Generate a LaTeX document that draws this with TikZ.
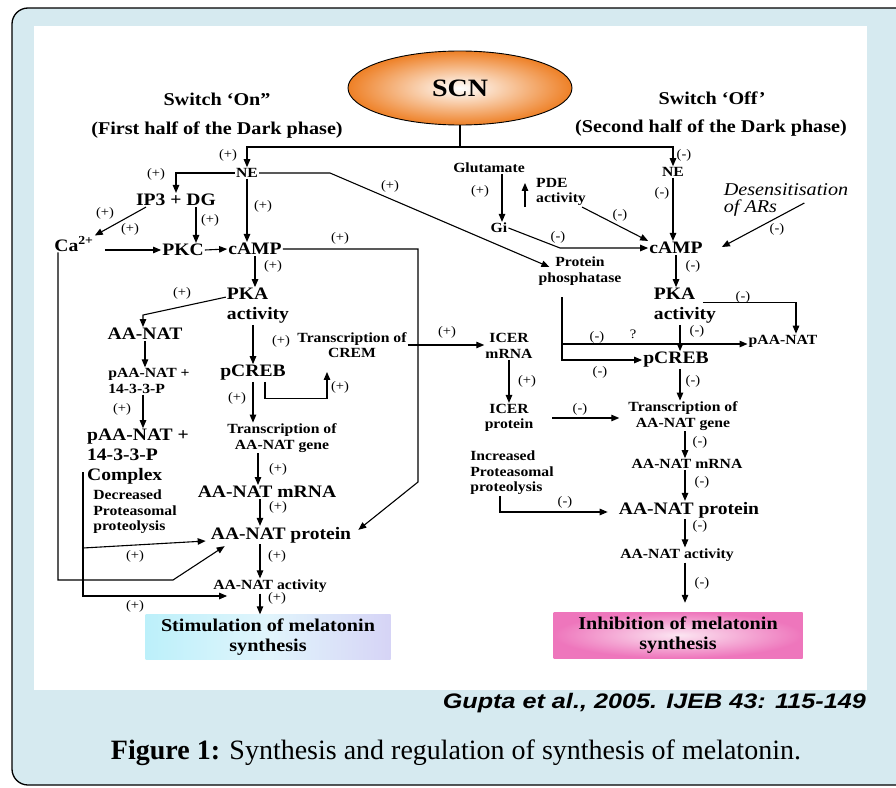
\documentclass[tikz,border=0pt]{standalone}
\usepackage{fontspec}
\usepackage{graphicx}
\setmainfont{Liberation Serif}
\newfontfamily\dg[FakeStretch=1.12]{Liberation Serif}
\newfontfamily\gup[FakeStretch=1.2]{Liberation Sans}
\usetikzlibrary{arrows.meta,shapes.geometric,calc}
\definecolor{bgblue}{RGB}{214,234,240}
\definecolor{scnorange}{RGB}{238,128,38}
\definecolor{stimL}{RGB}{188,240,250}
\definecolor{stimR}{RGB}{214,212,246}
\definecolor{stimM}{RGB}{225,245,252}
\definecolor{inhOut}{RGB}{238,118,188}
\definecolor{inhIn}{RGB}{252,230,242}
\tikzset{
  big/.style={font=\dg\bfseries\fontsize{17.5}{20}\selectfont, inner sep=1pt},
  sml/.style={font=\dg\bfseries\fontsize{14}{15.5}\selectfont, inner sep=1pt},
  lab/.style={font=\dg\fontsize{13}{14}\selectfont, inner sep=0pt},
  head/.style={font=\dg\bfseries\fontsize{18}{20}\selectfont, inner sep=1pt},
  desc/.style={font=\dg\itshape\fontsize{18}{17}\selectfont, inner sep=1pt, align=left},
  arr/.style={-{Triangle[length=8pt,width=6.5pt]}, line width=1.1pt},
  ln/.style={line width=1.1pt},
  stimbox/.style={font=\dg\bfseries\fontsize{18}{20}\selectfont, align=center,
     minimum width=245pt, minimum height=45pt, inner sep=0pt,
     left color=stimL, right color=stimR, middle color=stimM},
  inhbox/.style={font=\dg\bfseries\fontsize{18}{20}\selectfont, align=center,
     minimum width=249pt, minimum height=46pt, inner sep=0pt,
     inner color=inhIn, outer color=inhOut},
}
\begin{document}
\begin{tikzpicture}[x=1pt,y=-1pt]
\clip (0,0) rectangle (896,787);
\fill[white] (0,0) rectangle (896,787);
\draw[fill=bgblue, line width=1.3pt, rounded corners=16pt] (12,8) rectangle (940,785);
\fill[white] (34,26) rectangle (867,690);

% ---------- header ----------
\node[ellipse, draw, line width=0.9pt, minimum width=224pt, minimum height=74pt,
      inner color=white, outer color=scnorange,
      font=\dg\bfseries\fontsize{25}{27}\selectfont] (scn) at (460,88) {SCN};
\node[head] (swon) at (217,99) {Switch ‘On”};
\node[head] (swonb) at (217,130) {(First half of the Dark phase)};
\node[head] (swoff) at (712,98) {Switch ‘Off’};
\node[head] (swoffb) at (711,128) {(Second half of the Dark phase)};

% ---------- left (switch on) ----------
\node[sml] (neL) at (247,173) {NE};
\node[big] (ip3) at (176,200) {IP3 + DG};
\node[big] (ca) at (74,244) {Ca\textsuperscript{2+}};
\node[big] (pkc) at (183,250) {PKC};
\node[big] (campL) at (255,249) {cAMP};
\node[big, align=left] (pkaL) at (258,306) {PKA\\activity};
\node[big] (aanat) at (145,334) {AA-NAT};
\node[sml, align=left] (paa1) at (149,381) {pAA-NAT +\\14-3-3-P};
\node[big, align=left] (paa2) at (138,457) {pAA-NAT +\\14-3-3-P\\Complex};
\node[sml, align=left] (decr) at (135,512) {Decreased\\Proteasomal\\proteolysis};
\node[big] (pcrebL) at (253,373) {pCREB};
\node[sml, align=center] (crem) at (352,345) {Transcription of\\CREM};
\node[sml, align=center] (trL) at (282,438) {Transcription of\\AA-NAT gene};
\node[big] (mrnaL) at (267,492) {AA-NAT mRNA};
\node[big] (prL) at (281,535) {AA-NAT protein};
\node[sml] (actL) at (270,586) {AA-NAT activity};
\node[stimbox] (stim) at (268,637) {Stimulation of melatonin\\synthesis};

% ---------- right (switch off) ----------
\node[sml] (neR) at (673,172) {NE};
\node[sml] (glu) at (489,168) {Glutamate};
\node[sml] (gi) at (499,228) {Gi};
\node[sml, align=left] (pde) at (561,192) {PDE\\activity};
\node[big] (campR) at (676,248) {cAMP};
\node[desc] (des) at (786,200) {Desensitisation\\of ARs};
\node[sml, align=center] (pp) at (580,271) {Protein\\phosphatase};
\node[big, align=left] (pkaR) at (685,306) {PKA\\activity};
\node[sml] (paaR) at (783,341) {pAA-NAT};
\node[big] (pcrebR) at (676,360) {pCREB};
\node[sml, align=center] (icerM) at (509,346) {ICER\\mRNA};
\node[sml, align=center] (icerP) at (509,418) {ICER\\protein};
\node[sml, align=center] (trR) at (683,416) {Transcription of\\AA-NAT gene};
\node[sml] (mrnaR) at (687,464) {AA-NAT mRNA};
\node[sml, align=left] (incr) at (512,473) {Increased\\Proteasomal\\proteolysis};
\node[big] (prR) at (689,510) {AA-NAT protein};
\node[sml] (actR) at (677,555) {AA-NAT activity};
\node[inhbox] (inh) at (678,635) {Inhibition of melatonin\\synthesis};

% ---------- footer ----------
\node[anchor=east, inner sep=0pt, font=\gup\bfseries\itshape\fontsize{21}{22}\selectfont] (cite) at (866,703) {Gupta et al., 2005. IJEB 43: 115-149};
\node[inner sep=0pt, font=\fontsize{28}{30}\selectfont] (cap) at (456,753) {\textbf{Figure 1:} Synthesis and regulation of synthesis of melatonin.};

% ---------- coordinates ----------
\coordinate (fork) at (460,147);
\coordinate (caB) at (58,580);
\coordinate (caK) at (173,580);
\coordinate (neK) at (330,173);
\coordinate (cRb) at (418,482);
\coordinate (cxT) at (83,472);
\coordinate (cxM) at (83,548);
\coordinate (cxB) at (83,596);
\coordinate (gK) at (560,248);
\coordinate (ppT) at (562,297);
\coordinate (ppM) at (562,344);

% ---------- connectors left ----------
\draw[ln] (scn.south) -- (fork);
\draw[arr] (fork) -| (neL.north);
\draw[arr] (fork) -| (neR.north);
\draw[arr] (neL.west) -| (ip3.north);
\draw[arr] (neL.south) -- (neL.south |- campL.north);
\draw[arr] ($(ip3.south)+(-30,0)$) -- (ca.north east);
\draw[arr] ([xshift=20pt]ip3.south) -- ([xshift=20pt]ip3.south |- pkc.north);
\draw[arr] ($(ca.east |- pkc.west)+(10,0)$) -- (pkc.west);
\draw[arr] (pkc.east) -- (campL.west);
\draw[arr] (ca.south -| caB) -- (caB) -- (caK) -- ($(prL.south west)+(15,2)$);
\draw[arr] (neL.east) -- (neK) -- ($(pp.west)+(12,-4)$);
\draw[arr] (campL.east) -| (cRb) -- ($(prL.north east)+(6,4)$);
\draw[arr] (campL.south) -- (campL.south |- pkaL.north);
\draw[arr] ([yshift=-10pt]pkaL.north west) -- ($(aanat.north)+(-2,-12)$) -- ($(aanat.north)+(-2,0)$);
\draw[arr] (aanat.south) -- (aanat.south |- paa1.north);
\draw[arr] ([xshift=-6pt]paa1.south) -- ([xshift=-6pt]paa1.south |- paa2.north);
\draw[arr] (cxT) -- (cxB) -- ($(cxB -| actL.west)+(15,0)$);
\draw[arr] (cxM) -- ($(prL.west)+(-4,6)$);
\draw[arr] (pkaL.south -| pcrebL.north) -- (pcrebL.north);
\draw[arr] ([xshift=12pt]pcrebL.south) -- ++(0,17) -| ($(crem.south)+(-25,13)$);
\draw[arr] (crem.east) -- (crem.east -| icerM.west);
\draw[arr] (pcrebL.south) -- (pcrebL.south |- trL.north);
\draw[arr] ([xshift=-24pt]trL.south) -- ([xshift=-24pt]trL.south |- mrnaL.north);
\draw[arr] ([xshift=-7pt]mrnaL.south) -- ([xshift=-7pt]mrnaL.south |- prL.north);
\draw[arr] ([xshift=-21pt]prL.south) -- ([xshift=-21pt]prL.south |- actL.north);
\draw[arr] ([xshift=-10pt]actL.south) -- ([xshift=-10pt]actL.south |- stim.north);

% ---------- connectors right ----------
\draw[arr] ([xshift=13pt]glu.south) -- ([xshift=13pt]glu.south |- gi.north);
\draw[arr] ($(pde.south west)+(-10,0)$) -- ($(pde.north west)+(-10,6)$);
\draw[arr] ($(pde.south)+(21,0)$) -- (campR.north west);
\draw[arr] (gi.east) -- (gK) -- (campR.west);
\draw[arr] (neR.south) -- (neR.south |- campR.north);
\draw[arr] ($(des.east)+(-45,3)$) -- ($(campR.east)+(18,-1)$);
\draw[arr] (campR.south) -- (campR.south |- pkaR.north);
\draw[arr] ($(pkaR.north west)+(50,15)$) -| ($(paaR.north)+(13,0)$);
\draw[arr] ([xshift=-5pt]pkaR.south) -- ([xshift=-5pt]pkaR.south |- pcrebR.north);
\draw[arr] (ppT) |- (pcrebR.west);
\draw[arr] (ppM) -- (ppM -| paaR.west);
\draw[arr] (icerM.south) -- (icerM.south |- icerP.north);
\draw[arr] ($(icerP.east)+(18,0)$) -- ($(icerP.east -| trR.west)+(-8,0)$);
\draw[arr] ([xshift=4pt]pcrebR.south) -- ([xshift=4pt]pcrebR.south |- trR.north);
\draw[arr] ([xshift=2pt]trR.south) -- ([xshift=2pt]trR.south |- mrnaR.north);
\draw[arr] ([xshift=-2pt]mrnaR.south) -- ([xshift=-2pt]mrnaR.south |- prR.north);
\draw[arr] ([xshift=-12pt]incr.south) |- ($(prR.west)+(-10,2)$);
\draw[arr] ([xshift=-4pt]prR.south) -- ([xshift=-4pt]prR.south |- actR.north);
\draw[arr] ([xshift=8pt]actR.south) -- ($([xshift=8pt]actR.south |- inh.north)+(0,-9)$);

% ---------- sign labels ----------
\node[lab] (l1) at (228,155) {(+)};
\node[lab] (l2) at (684,155) {(-)};
\node[lab] (l3) at (156,174) {(+)};
\node[lab] (l4) at (263,206) {(+)};
\node[lab] (l5) at (390,186) {(+)};
\node[lab] (l6) at (105,213) {(+)};
\node[lab] (l7) at (130,229) {(+)};
\node[lab] (l8) at (210,220) {(+)};
\node[lab] (l9) at (340,238) {(+)};
\node[lab] (l10) at (273,266) {(+)};
\node[lab] (l11) at (182,293) {(+)};
\node[lab] (l12) at (281,341) {(+)};
\node[lab] (l13) at (122,409) {(+)};
\node[lab] (l14) at (340,387) {(+)};
\node[lab] (l15) at (237,398) {(+)};
\node[lab] (l16) at (447,332) {(+)};
\node[lab] (l17) at (278,469) {(+)};
\node[lab] (l18) at (278,507) {(+)};
\node[lab] (l19) at (135,556) {(+)};
\node[lab] (l20) at (277,556) {(+)};
\node[lab] (l21) at (277,598) {(+)};
\node[lab] (l22) at (135,606) {(+)};
\node[lab] (r1) at (480,191) {(+)};
\node[lab] (r2) at (620,215) {(-)};
\node[lab] (r3) at (558,237) {(-)};
\node[lab] (r4) at (662,193) {(-)};
\node[lab] (r5) at (777,229) {(-)};
\node[lab] (r6) at (693,266) {(-)};
\node[lab] (r7) at (743,297) {(-)};
\node[lab] (r8) at (697,331) {(-)};
\node[lab] (r9) at (597,337) {(-)};
\node[lab] (r10) at (633,334) {?};
\node[lab] (r11) at (600,372) {(-)};
\node[lab] (r12) at (527,381) {(+)};
\node[lab] (r13) at (580,409) {(-)};
\node[lab] (r14) at (693,381) {(-)};
\node[lab] (r15) at (700,442) {(-)};
\node[lab] (r16) at (702,482) {(-)};
\node[lab] (r17) at (565,502) {(-)};
\node[lab] (r18) at (700,526) {(-)};
\node[lab] (r19) at (702,583) {(-)};
\end{tikzpicture}
\end{document}
